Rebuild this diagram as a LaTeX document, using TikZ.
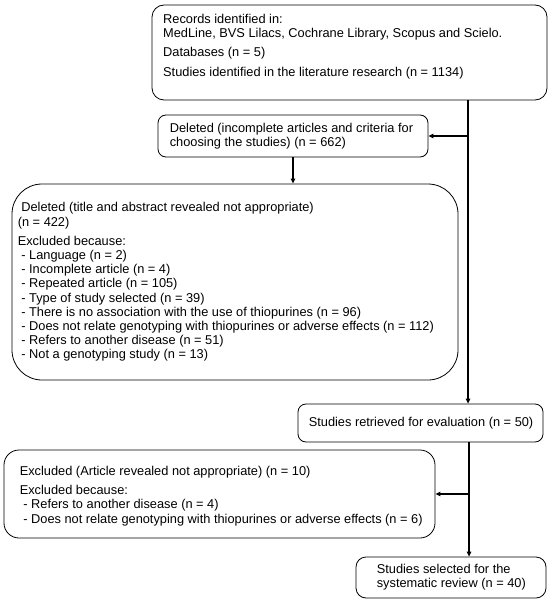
\documentclass[tikz,border=0pt]{standalone}
\usepackage{fontspec}
\setmainfont{Liberation Sans}
\usetikzlibrary{arrows.meta}
\begin{document}
\begin{tikzpicture}[x=1pt,y=-1pt,
  frame/.style={draw, line width=0.8pt, inner sep=0pt},
  txt/.style={inner sep=0pt, align=left,
    font=\fontsize{12.8}{14.2}\selectfont},
  flow/.style={line width=1.2pt, -{Triangle[length=5pt,width=4.5pt]}}]
\useasboundingbox (0,0) rectangle (550,604);
% frames
\node[frame, rounded corners=12pt, minimum width=395pt, minimum height=95pt] (b1) at (349.5,52.5) {};
\node[frame, rounded corners=8pt, minimum width=270pt, minimum height=42pt] (b2) at (293,136) {};
\node[frame, rounded corners=30pt, minimum width=446pt, minimum height=196pt] (b3) at (235,282) {};
\node[frame, rounded corners=8pt, minimum width=245pt, minimum height=38pt] (b4) at (420.5,423) {};
\node[frame, rounded corners=15pt, minimum width=431pt, minimum height=88pt] (b5) at (219.5,494) {};
\node[frame, rounded corners=10pt, minimum width=190pt, minimum height=41pt] (b6) at (451,577.5) {};
% texts
\node[txt, anchor=north west] (b1t) at (163,14)
  {Records identified in:\\
   MedLine, BVS Lilacs, Cochrane Library, Scopus and Scielo.\\[5pt]
   Databases (n = 5)\\[5pt]
   Studies identified in the literature research (n = 1134)};
\node[txt, anchor=west] (b2t) at ([xshift=12pt]b2.west)
  {Deleted (incomplete articles and criteria for\\
   choosing the studies) (n = 662)};
\node[txt, anchor=west] (b3t) at ([xshift=6pt]b3.west)
  {\ Deleted (title and abstract revealed not appropriate)\\
   (n = 422)\\[5pt]
   Excluded because:\\
   \ - Language (n = 2)\\
   \ - Incomplete article (n = 4)\\
   \ - Repeated article (n = 105)\\
   \ - Type of study selected (n = 39)\\
   \ - There is no association with the use of thiopurines (n = 96)\\
   \ - Does not relate genotyping with thiopurines or adverse effects (n = 112)\\
   \ - Refers to another disease (n = 51)\\
   \ - Not a genotyping study (n = 13)};
\node[txt, anchor=west] (b4t) at ([xshift=11pt]b4.west)
  {Studies retrieved for evaluation (n = 50)};
\node[txt, anchor=west] (b5t) at ([xshift=16pt,yshift=-2pt]b5.west)
  {Excluded (Article revealed not appropriate) (n = 10)\\[5pt]
   Excluded because:\\
   \ - Refers to another disease (n = 4)\\
   \ - Does not relate genotyping with thiopurines or adverse effects (n = 6)};
\node[txt, anchor=west] (b6t) at ([xshift=21pt]b6.west)
  {Studies selected for the\\
   systematic review (n = 40)};
% connectors
\coordinate (m1) at (468,0);
\coordinate (m2) at (469,0);
\draw[flow] (b1.south -| m1) -- (b4.north -| m1);
\draw[flow] (m1 |- b2.east) -- (b2.east);
\draw[flow] (b2.south) -- (b3.north -| b2.south);
\draw[flow] (b4.south -| m2) -- (b6.north -| m2);
\draw[flow] (m2 |- b5.east) -- (b5.east);
\end{tikzpicture}
\end{document}
